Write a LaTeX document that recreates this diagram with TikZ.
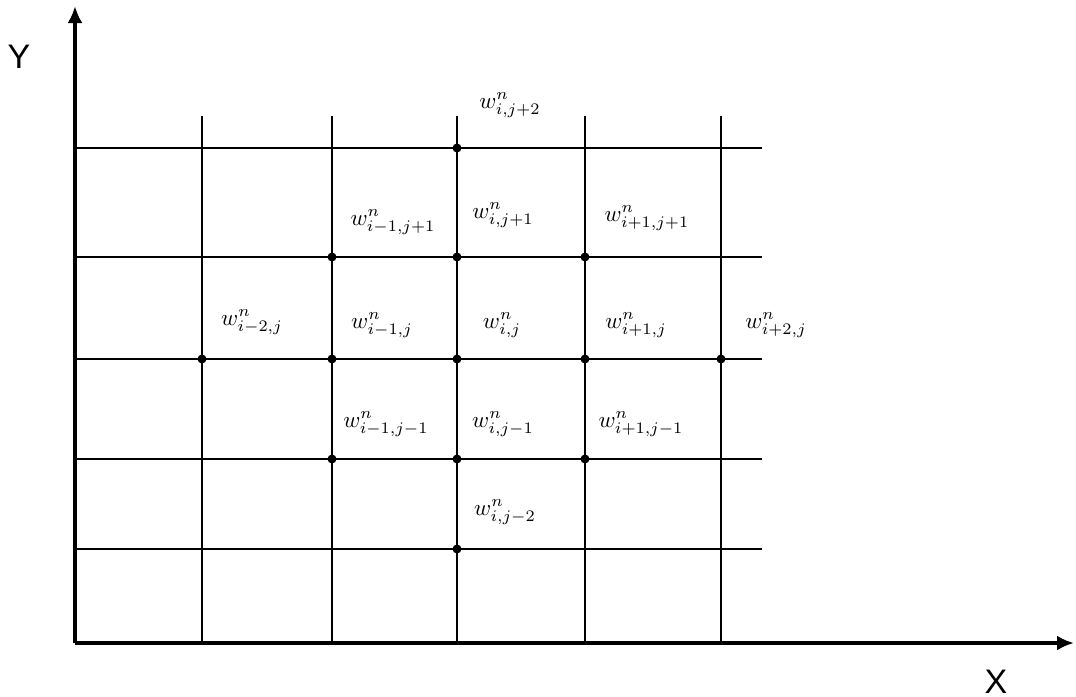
\documentclass[tikz,border=0pt]{standalone}
\usetikzlibrary{arrows.meta}
\usepackage{fontspec}
\newfontfamily\axisfont{Liberation Sans}
\begin{document}
\begin{tikzpicture}[x=1pt,y=-1pt,
  gridline/.style={line width=1.6pt},
  axisline/.style={line width=3.6pt,-{Latex[length=17pt,width=15pt]}},
  meshpt/.style={circle,fill,inner sep=0pt,minimum size=9pt},
  val/.style={inner sep=0pt,scale=2.3,transform shape},
  axlabel/.style={font=\axisfont\fontsize{34}{40}\selectfont,inner sep=0pt}]
\useasboundingbox (0,0) rectangle (1076,696);

% axes
\coordinate (O) at (75,643);
\coordinate (Xend) at (1074,643);
\coordinate (Yend) at (75,6);

% grid columns (i-2 .. i+2) and rows (j+2 .. j-2)
\foreach \k/\x in {1/202,2/332,3/457,4/585,5/721}{
  \coordinate (c\k t) at (\x,116);
  \coordinate (c\k b) at (\x,643);
  \draw[gridline] (c\k t) -- (c\k b);
}
\foreach \k/\y in {1/148,2/257,3/359,4/459,5/549}{
  \coordinate (r\k l) at (75,\y);
  \coordinate (r\k r) at (762,\y);
  \draw[gridline] (r\k l) -- (r\k r);
}

\draw[axisline] (O) -- (Yend);
\draw[axisline] (O) -- (Xend);
\node[axlabel] (ylab) at (19,57) {Y};
\node[axlabel,anchor=base] (xlab) at (996,693) {X};

% stencil points
\foreach \c/\r in {3/1, 2/2,3/2,4/2, 1/3,2/3,3/3,4/3,5/3, 2/4,3/4,4/4, 3/5}{
  \node[meshpt] (p\c\r) at (c\c t |- r\r l) {};
}

% grid values
\node[val] (w31) at (510,105) {$w^{n}_{i,j+2}$};
\node[val] (w22) at (393,222) {$w^{n}_{i-1,j+1}$};
\node[val] (w32) at (503,215) {$w^{n}_{i,j+1}$};
\node[val] (w42) at (647,218) {$w^{n}_{i+1,j+1}$};
\node[val] (w13) at (252,322) {$w^{n}_{i-2,j}$};
\node[val] (w23) at (382,325) {$w^{n}_{i-1,j}$};
\node[val] (w33) at (502,325) {$w^{n}_{i,j}$};
\node[val] (w43) at (636,325) {$w^{n}_{i+1,j}$};
\node[val] (w53) at (776,325) {$w^{n}_{i+2,j}$};
\node[val] (w24) at (386,424) {$w^{n}_{i-1,j-1}$};
\node[val] (w34) at (503,424) {$w^{n}_{i,j-1}$};
\node[val] (w44) at (641,424) {$w^{n}_{i+1,j-1}$};
\node[val] (w35) at (505,512) {$w^{n}_{i,j-2}$};
\end{tikzpicture}
\end{document}
